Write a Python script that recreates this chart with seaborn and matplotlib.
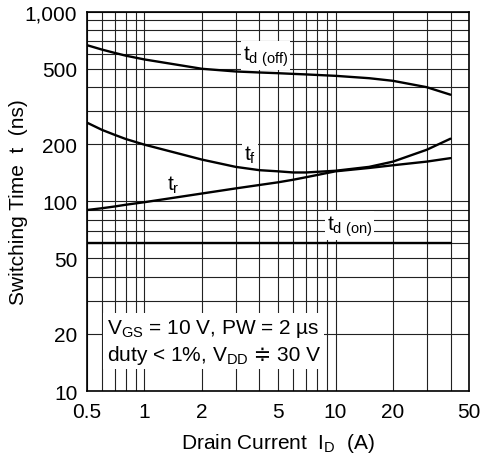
import numpy as np
import pandas as pd
import matplotlib
matplotlib.use("Agg")
import matplotlib.pyplot as plt
import seaborn as sns
from matplotlib.ticker import FixedLocator, FixedFormatter, NullFormatter
from matplotlib.offsetbox import TextArea, HPacker, VPacker, AnnotationBbox

# ---- data ----
current = [0.5, 0.6, 0.7, 0.8, 1, 2, 3, 4, 5, 6, 7, 10, 15, 20, 30, 40]
td_off = [666, 631, 606, 586, 560, 500, 484, 478, 474, 470, 467, 459, 446, 432, 400, 365]
t_fall = [260, 238, 224, 213, 199, 166, 152, 146, 144, 142, 142, 145, 152, 162, 187, 214]
t_rise = [90, 92, 94, 96, 99, 110, 117, 122, 126, 130, 134, 144, 150, 155, 162, 169]
td_on = [60, 60, 60, 60, 60, 60, 60, 60, 60, 60, 60, 60, 60, 60, 60, 60]

x_ticks = [0.5, 1, 2, 5, 10, 20, 50]
x_ticklabels = ["0.5", "1", "2", "5", "10", "20", "50"]
x_minor = [0.6, 0.7, 0.8, 0.9, 3, 4, 6, 7, 8, 9, 30, 40]
y_ticks = [10, 20, 50, 100, 200, 500, 1000]
y_ticklabels = ["10", "20", "50", "100", "200", "500", "1,000"]
y_minor = [30, 40, 60, 70, 80, 90, 300, 400, 600, 700, 800, 900]

sns.set_style("white")
FAMILY = ["Liberation Sans", "DejaVu Sans"]
plt.rcParams["font.family"] = FAMILY
plt.rcParams["mathtext.fontset"] = "custom"
plt.rcParams["mathtext.rm"] = "Liberation Sans"
plt.rcParams["mathtext.it"] = "Liberation Sans"
plt.rcParams["mathtext.bf"] = "Liberation Sans:bold"
plt.rcParams["text.color"] = "black"
plt.rcParams["axes.labelcolor"] = "black"
plt.rcParams["xtick.color"] = "black"
plt.rcParams["ytick.color"] = "black"

FS = 15

df = pd.concat([
    pd.DataFrame({"current": current, "time": td_off, "series": "td_off"}),
    pd.DataFrame({"current": current, "time": t_fall, "series": "tf"}),
    pd.DataFrame({"current": current, "time": t_rise, "series": "tr"}),
    pd.DataFrame({"current": current, "time": td_on, "series": "td_on"}),
])

fig = plt.figure(figsize=(4.92, 4.60), dpi=100)
ax = fig.add_axes([0.1768, 0.1478, 0.7765, 0.8246])

sns.lineplot(data=df, x="current", y="time", hue="series",
             palette=["black"] * 4, legend=False, lw=1.7,
             estimator=None, sort=True, ax=ax, zorder=4)

ax.set_xscale("log")
ax.set_yscale("log")
ax.set_xlim(0.5, 50)
ax.set_ylim(10, 1000)

ax.xaxis.set_major_locator(FixedLocator(x_ticks))
ax.xaxis.set_major_formatter(FixedFormatter(x_ticklabels))
ax.xaxis.set_minor_locator(FixedLocator(x_minor))
ax.xaxis.set_minor_formatter(NullFormatter())
ax.yaxis.set_major_locator(FixedLocator(y_ticks))
ax.yaxis.set_major_formatter(FixedFormatter(y_ticklabels))
ax.yaxis.set_minor_locator(FixedLocator(y_minor))
ax.yaxis.set_minor_formatter(NullFormatter())

ax.set_axisbelow(True)
ax.grid(which="both", color="#222222", lw=0.8)
ax.tick_params(axis="both", which="both", length=0, labelsize=FS,
               colors="black", labelcolor="black")
ax.tick_params(axis="x", pad=8)
ax.tick_params(axis="y", pad=7)
for s in ax.spines.values():
    s.set_color("black")
    s.set_linewidth(1.2)

ax.set_xlabel(r"Drain Current  $\mathregular{I_D}$  (A)", fontsize=FS, color="black")
ax.set_ylabel("Switching Time  t  (ns)", fontsize=FS, color="black")
ax.xaxis.set_label_coords(0.5, -0.105)
ax.yaxis.set_label_coords(-0.154, 0.5)

box = dict(facecolor="white", edgecolor="none", pad=1.5)
ax.text(0.408, 0.884, r"$\mathregular{t_{d\ (off)}}$", transform=ax.transAxes,
        fontsize=FS, ha="left", va="center", bbox=box, zorder=3, color="black")
ax.text(0.411, 0.623, r"$\mathregular{t_f}$", transform=ax.transAxes,
        fontsize=FS, ha="left", va="center", bbox=box, zorder=3, color="black")
ax.text(0.209, 0.544, r"$\mathregular{t_r}$", transform=ax.transAxes,
        fontsize=FS, ha="left", va="center", zorder=3, color="black")
ax.text(0.628, 0.437, r"$\mathregular{t_{d\ (on)}}$", transform=ax.transAxes,
        fontsize=FS, ha="left", va="center", bbox=box, zorder=3, color="black")

# conditions box (two lines, the ≑ sign drawn with a font that has it)
tp = dict(fontsize=FS, color="black")
line1 = TextArea(r"$\mathregular{V_{GS}}$ = 10 V, PW = 2 µs", textprops=tp)
line2 = HPacker(children=[
    TextArea(r"duty < 1%, $\mathregular{V_{DD}}$", textprops=tp),
    TextArea(" ≑ 30 V", textprops=dict(fontsize=FS, color="black", family=FAMILY)),
], pad=0, sep=0, align="baseline")
cond = VPacker(children=[line1, line2], pad=0, sep=3, align="left")
ab = AnnotationBbox(cond, (0.052, 0.131), xycoords="axes fraction",
                    box_alignment=(0, 0.5), frameon=True, pad=0.25,
                    bboxprops=dict(facecolor="white", edgecolor="none"),
                    zorder=3)
ax.add_artist(ab)

fig.savefig("out.png", dpi=100)
